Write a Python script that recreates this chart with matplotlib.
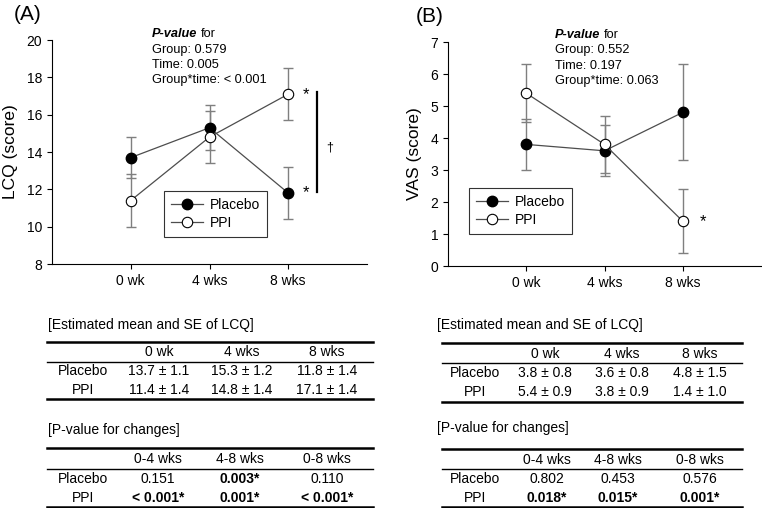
import matplotlib
matplotlib.use('Agg')
import matplotlib.pyplot as plt
from matplotlib.lines import Line2D

plt.rcParams['font.family'] = ['Liberation Sans', 'DejaVu Sans']

# data
weeks = ['0 wk', '4 wks', '8 wks']
changes = ['0-4 wks', '4-8 wks', '0-8 wks']
groups = ['Placebo', 'PPI']

lcq_placebo = [13.7, 15.3, 11.8]
lcq_placebo_se = [1.1, 1.2, 1.4]
lcq_ppi = [11.4, 14.8, 17.1]
lcq_ppi_se = [1.4, 1.4, 1.4]

vas_placebo = [3.8, 3.6, 4.8]
vas_placebo_se = [0.8, 0.8, 1.5]
vas_ppi = [5.4, 3.8, 1.4]
vas_ppi_se = [0.9, 0.9, 1.0]

lcq_pvals = ['Group: 0.579', 'Time: 0.005', 'Group*time: < 0.001']
vas_pvals = ['Group: 0.552', 'Time: 0.197', 'Group*time: 0.063']

lcq_change_placebo = ['0.151', '0.003*', '0.110']
lcq_change_ppi = ['< 0.001*', '0.001*', '< 0.001*']
vas_change_placebo = ['0.802', '0.453', '0.576']
vas_change_ppi = ['0.018*', '0.015*', '0.001*']

W, H = 762, 508


def fx(px):
    return px / W


def fy(py):
    return 1 - py / H


fig = plt.figure(figsize=(W / 100, H / 100), dpi=100)


def draw_panel(rect, placebo, placebo_se, ppi, ppi_se, ylim, yticks, ylabel,
               pvals, ptext_x, ptext_y0, leg_anchor):
    ax = fig.add_axes(rect)
    x = list(range(len(weeks)))
    ax.errorbar(x, placebo, yerr=placebo_se, fmt='none', ecolor='#7f7f7f',
                elinewidth=1, capsize=3.5, capthick=1)
    ax.errorbar(x, ppi, yerr=ppi_se, fmt='none', ecolor='#7f7f7f',
                elinewidth=1, capsize=3.5, capthick=1)
    ax.plot(x, placebo, '-', color='#4d4d4d', lw=0.9, marker='o', ms=7.5,
            mfc='black', mec='black', label='Placebo', zorder=3)
    ax.plot(x, ppi, '-', color='#4d4d4d', lw=0.9, marker='o', ms=7.5,
            mfc='white', mec='black', mew=0.8, label='PPI', zorder=4)
    ax.set_xlim(-1, 3)
    ax.set_ylim(*ylim)
    ax.set_yticks(yticks)
    ax.set_xticks(x)
    ax.set_xticklabels(weeks)
    ax.set_ylabel(ylabel, fontsize=12.5, labelpad=6)
    ax.tick_params(labelsize=10, direction='out', length=3.5, width=0.8)
    for s in ['top', 'right']:
        ax.spines[s].set_visible(False)
    for s in ['left', 'bottom']:
        ax.spines[s].set_linewidth(0.8)
    leg = ax.legend(loc='upper left', bbox_to_anchor=leg_anchor, fontsize=10,
                    frameon=True, fancybox=False, edgecolor='black',
                    handlelength=2.3, borderpad=0.5, labelspacing=0.3,
                    handletextpad=0.5, borderaxespad=0)
    leg.get_frame().set_linewidth(0.8)

    # P-value annotation
    t1 = fig.text(fx(ptext_x), fy(ptext_y0), 'P-value', fontsize=9.2,
                  fontweight='bold', fontstyle='italic', va='center', ha='left')
    ax.annotate('for', xy=(1, 0), xycoords=t1, xytext=(2.5, 0),
                textcoords='offset points', va='bottom', ha='left',
                fontsize=9.2)
    for i, txt in enumerate(pvals):
        fig.text(fx(ptext_x), fy(ptext_y0 + 15.5 * (i + 1)), txt,
                 fontsize=9.2, va='center', ha='left')
    return ax


axA = draw_panel([fx(52), fy(264), fx(315), 224 / H],
                 lcq_placebo, lcq_placebo_se, lcq_ppi, lcq_ppi_se,
                 (8, 20), range(8, 21, 2), 'LCQ (score)',
                 lcq_pvals, 152, 34, (0.356, 0.326))
axB = draw_panel([fx(448), fy(266), fx(313), 224 / H],
                 vas_placebo, vas_placebo_se, vas_ppi, vas_ppi_se,
                 (0, 7), range(0, 8), 'VAS (score)',
                 vas_pvals, 555, 35, (0.067, 0.348))

# significance marks
axA.text(2 + 0.19, lcq_ppi[2], '*', fontsize=12, ha='left', va='center')
axA.text(2 + 0.19, lcq_placebo[2], '*', fontsize=12, ha='left', va='center')
axA.plot([2.37, 2.37], [lcq_placebo[2] + 0.05, lcq_ppi[2] + 0.1], color='black',
         lw=1.6, clip_on=False)
axA.text(2.52, (lcq_placebo[2] + lcq_ppi[2]) / 2 - 0.2, '†', fontsize=9,
         ha='center', va='center')
axB.text(2 + 0.22, vas_ppi[2], '*', fontsize=12, ha='left', va='center')

fig.text(fx(14), fy(15), '(A)', fontsize=15, ha='left', va='center')
fig.text(fx(416), fy(17), '(B)', fontsize=15, ha='left', va='center')


def hline(x0, x1, y, lw):
    fig.add_artist(Line2D([fx(x0), fx(x1)], [fy(y), fy(y)], color='black',
                          lw=lw, transform=fig.transFigure))


def draw_table(x0, x1, title, title_x, title_y, rules, header_y, row_ys,
               col_xs, headers, rows, bold_star=False):
    fig.text(fx(title_x), fy(title_y), title, fontsize=10, ha='left',
             va='center')
    hline(x0, x1, rules[0], 1.8)
    hline(x0, x1, rules[1], 1.0)
    hline(x0, x1, rules[2], 1.8)
    for cx, h in zip(col_xs[1:], headers):
        fig.text(fx(cx), fy(header_y), h, fontsize=10, ha='center', va='center')
    for ry, (name, vals) in zip(row_ys, rows):
        fig.text(fx(col_xs[0]), fy(ry), name, fontsize=10, ha='center',
                 va='center')
        for cx, v in zip(col_xs[1:], vals):
            bold = bold_star and v.endswith('*')
            fig.text(fx(cx), fy(ry), v, fontsize=10, ha='center', va='center',
                     fontweight='bold' if bold else 'normal')


def fmt(means, ses):
    return [f'{m:.1f} ± {s:.1f}' for m, s in zip(means, ses)]


# Panel A tables
draw_table(47, 373, '[Estimated mean and SE of LCQ]', 48, 325,
           [342, 362, 399], 352, [371, 390], [83, 159, 242, 327], weeks,
           [(groups[0], fmt(lcq_placebo, lcq_placebo_se)),
            (groups[1], fmt(lcq_ppi, lcq_ppi_se))])
draw_table(47, 373, '[P-value for changes]', 48, 430,
           [448, 469, 507], 459, [479, 498], [83, 158, 240, 327], changes,
           [(groups[0], lcq_change_placebo), (groups[1], lcq_change_ppi)],
           bold_star=True)

# Panel B tables
draw_table(442, 742, '[Estimated mean and SE of LCQ]', 437, 325,
           [343, 363, 402], 354, [373, 392], [475, 545, 622, 700], weeks,
           [(groups[0], fmt(vas_placebo, vas_placebo_se)),
            (groups[1], fmt(vas_ppi, vas_ppi_se))])
draw_table(442, 742, '[P-value for changes]', 437, 428,
           [449, 469, 507], 460, [479, 498], [475, 547, 618, 700], changes,
           [(groups[0], vas_change_placebo), (groups[1], vas_change_ppi)],
           bold_star=True)

fig.savefig('out.png', dpi=100)
